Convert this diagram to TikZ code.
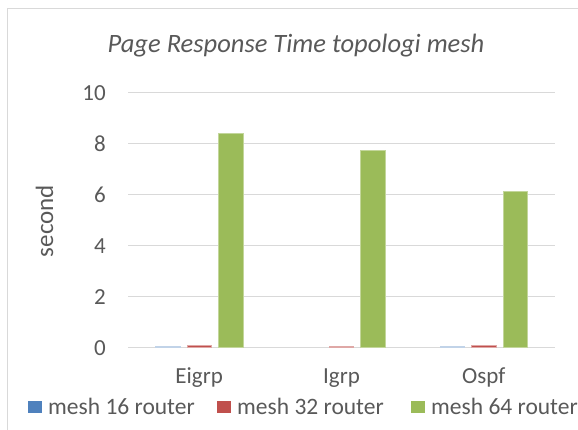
\documentclass[tikz,border=0pt]{standalone}
\usepackage{fontspec}
\setmainfont{Carlito}
\definecolor{txtgray}{HTML}{595959}
\definecolor{gridgray}{HTML}{D9D9D9}
\definecolor{meshblue}{HTML}{4F81BD}
\definecolor{meshred}{HTML}{C0504D}
\definecolor{meshgreen}{HTML}{9BBB59}
\tikzset{
  lbl/.style={text=txtgray, font=\fontsize{23}{27}\selectfont, inner sep=0pt},
  gridline/.style={draw=gridgray, line width=1.3pt},
  legkey/.style={minimum width=14pt, minimum height=12pt, inner sep=0pt, anchor=south west},
}
\begin{document}
\begin{tikzpicture}[x=1pt,y=1pt]
			\useasboundingbox (0,0) rectangle (578,430);
			\draw[gridgray, line width=1pt] (7,0) -- (7,421) -- (578,421);
			\node[lbl, font=\fontsize{26.5}{30}\selectfont\itshape, anchor=base] (title) at (296,377) {Page Response Time topologi mesh};
			\node[lbl, font=\fontsize{25}{29}\selectfont, rotate=90, anchor=base] (ylab) at (53,209) {second};
			% gridlines and ticks
			\begin{scope}[shift={(0,82.3)}, y=25.5pt]
				\foreach \v in {0,2,...,10}{
					\draw[gridline] (128,\v) -- (555,\v);
					\node[lbl, anchor=east] (t\v) at (106,\v) {\v};
				}
				% bars: category, blue, red, green
				\foreach \c/\a/\b/\g in {0/0.06/0.09/8.41, 1/0/0.07/7.75, 2/0.06/0.09/6.14}{
					\pgfmathsetmacro{\xc}{199.2+142.3*\c}
					\ifdim \a pt > 0pt
					\fill[meshblue, draw=meshblue!35!white, line width=0.8pt] (\xc-31.6-12.3,0) rectangle (\xc-31.6+12.3,\a);
					\fi
					\fill[meshred, draw=meshred!50!white, line width=0.8pt] (\xc-12.3,0) rectangle (\xc+12.3,\b);
					\fill[meshgreen, draw=meshgreen!60!white, line width=0.8pt] (\xc+31.6-12.3,0) rectangle (\xc+31.6+12.3,\g);
				}
			\end{scope}
			\node[lbl, anchor=base] (eigrp) at (199.2,46) {Eigrp};
			\node[lbl, anchor=base] (igrp) at (341.5,46) {Igrp};
			\node[lbl, anchor=base] (ospf) at (483.8,46) {Ospf};
			% legend
			\node[legkey, fill=meshblue] (key16) at (28,17) {};
			\node[lbl, font=\fontsize{23.5}{27}\selectfont, anchor=base west] (leg16) at (48,15) {mesh 16 router};
			\node[legkey, fill=meshred] (key32) at (217,17) {};
			\node[lbl, font=\fontsize{23.5}{27}\selectfont, anchor=base west] (leg32) at (237,15) {mesh 32 router};
			\node[legkey, fill=meshgreen] (key64) at (411,17) {};
			\node[lbl, font=\fontsize{23.5}{27}\selectfont, anchor=base west] (leg64) at (431,15) {mesh 64 router};
		\end{tikzpicture}
\end{document}
